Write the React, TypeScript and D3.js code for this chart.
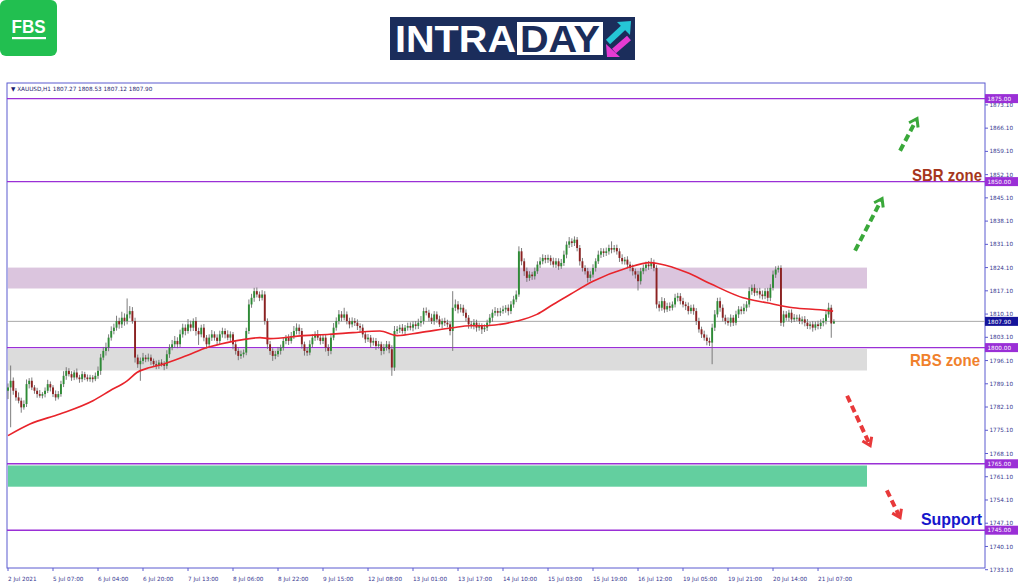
import React from 'react';
import * as d3 from 'd3';

// ---- DATA ----
const firstOpen = 1787;
const closes = [
  1788, 1790, 1787, 1785, 1784, 1782, 1783, 1789, 1790, 1788,
  1787, 1786, 1785.5, 1786, 1787, 1789, 1788, 1786, 1785, 1786,
  1789, 1791.5, 1793, 1792, 1791, 1792.5, 1791, 1790.5, 1792, 1791,
  1790.5, 1791, 1790.5, 1791.5, 1793, 1797, 1799, 1800, 1803, 1805,
  1806, 1808, 1807, 1809, 1808, 1810, 1811, 1808, 1797, 1795,
  1796, 1797, 1796.5, 1797, 1796, 1795, 1794.5, 1795.5, 1795, 1794.5,
  1798, 1800, 1801, 1802, 1801, 1804, 1806, 1805, 1807, 1806,
  1808, 1805, 1804, 1806, 1803, 1801, 1803, 1804, 1803, 1802,
  1804, 1805, 1804, 1803, 1804, 1801, 1799, 1797.5, 1798, 1798.5,
  1805, 1813, 1815, 1817, 1816, 1815, 1816, 1808, 1801, 1799,
  1797.5, 1798, 1799, 1800, 1802, 1803, 1802, 1803.5, 1805, 1806,
  1805, 1801, 1799, 1798.5, 1801, 1803, 1804, 1803, 1802, 1803,
  1800, 1799, 1803, 1806, 1808, 1810, 1809, 1810, 1808, 1807,
  1808, 1807.5, 1806.5, 1806, 1804, 1802.5, 1803, 1801.5, 1802, 1800.5,
  1801, 1799, 1800, 1801, 1799.5, 1794, 1805, 1805.5, 1806, 1805,
  1806, 1806.5, 1806, 1807, 1806.5, 1807.5, 1808, 1811, 1810.5, 1809,
  1808, 1810, 1808.5, 1807, 1808, 1807.5, 1807, 1805, 1812, 1813,
  1811.5, 1812, 1810.5, 1809, 1807, 1806.5, 1807.5, 1806, 1806.5, 1805.5,
  1806, 1807.5, 1809, 1810.5, 1811, 1810.5, 1811, 1811.5, 1812, 1811,
  1813, 1814.5, 1816, 1829, 1826, 1823, 1821, 1822, 1821.5, 1823,
  1825, 1826, 1827, 1826.5, 1827, 1826, 1825, 1826, 1824.5, 1825.5,
  1828, 1831, 1832, 1831.5, 1832.5, 1830, 1826, 1824, 1823, 1821,
  1822, 1824, 1826, 1828, 1829, 1828.5, 1829, 1830, 1829.5, 1830,
  1829, 1827, 1826, 1826.5, 1825, 1824, 1823, 1822, 1820, 1823,
  1824, 1825, 1824.5, 1825.5, 1824, 1813, 1812, 1814, 1811.5, 1812.5,
  1812, 1813, 1815, 1815.5, 1814, 1813, 1812.5, 1811, 1812, 1811,
  1808, 1805.5, 1804, 1803, 1802, 1801.5, 1806, 1810, 1814, 1812,
  1809, 1808, 1807.5, 1809, 1807.5, 1810, 1811.5, 1811, 1812, 1813,
  1817, 1818, 1816.5, 1817, 1816, 1815.5, 1817, 1815, 1818, 1822,
  1823.5, 1824, 1807.5, 1810, 1809, 1810.5, 1808.5, 1809, 1809, 1808,
  1808.5, 1807.5, 1806.5, 1807, 1806, 1807, 1806.5, 1807.5, 1808, 1810,
  1812, 1807.27, 1807.9,
];
const upperWicks = [
  1.2, 4.6, 1.0, 0.8, 1.5, 0.9, 1.1, 1.4, 0.8, 1.0,
  0.7, 0.9, 1.2, 0.6, 1.0, 1.3, 0.8, 0.7, 1.1, 0.9,
  1.0, 1.4, 1.1, 0.8, 0.9, 0.7, 1.2, 0.8, 0.9, 0.7,
  0.9, 0.8, 0.7, 1.0, 1.3, 1.1, 1.2, 1.5, 1.0, 1.4,
  1.2, 1.6, 1.0, 1.8, 1.3, 4.8, 1.5, 1.2, 1.0, 0.9,
  1.0, 1.4, 0.8, 1.2, 0.9, 0.7, 1.1, 0.8, 1.0, 0.9,
  1.2, 1.0, 1.3, 1.5, 1.1, 1.4, 1.2, 1.0, 1.6, 1.1,
  0.8, 1.2, 1.0, 0.9, 1.1, 0.8, 1.0, 1.3, 0.9, 1.0,
  1.1, 1.0, 0.8, 1.2, 0.9, 0.7, 1.0, 0.8, 1.1, 0.9,
  1.0, 1.5, 1.2, 1.0, 1.1, 0.9, 1.3, 1.0, 0.8, 1.0,
  0.8, 1.0, 1.2, 0.9, 1.1, 0.8, 1.0, 1.2, 1.5, 1.3,
  1.0, 0.9, 0.8, 1.1, 1.2, 1.0, 0.9, 1.3, 0.8, 1.0,
  0.9, 1.0, 1.2, 1.4, 1.1, 1.3, 1.0, 2.0, 0.9, 1.0,
  1.1, 0.9, 1.0, 0.8, 1.0, 0.9, 1.1, 0.8, 1.0, 0.9,
  1.0, 0.8, 1.1, 1.0, 0.9, 1.2, 1.5, 1.0, 0.9, 1.1,
  0.8, 1.0, 1.1, 0.9, 1.0, 1.2, 1.5, 1.0, 1.1, 0.9,
  1.2, 1.0, 0.9, 1.1, 0.8, 1.0, 0.9, 0.8, 5.0, 1.5,
  1.0, 1.1, 0.9, 1.0, 0.8, 1.0, 1.1, 0.9, 1.0, 0.8,
  1.0, 0.9, 1.1, 1.0, 1.2, 0.9, 1.0, 1.1, 0.8, 1.0,
  1.0, 1.1, 1.2, 1.5, 1.0, 0.9, 1.1, 1.0, 0.8, 1.1,
  1.0, 1.2, 1.1, 0.9, 1.0, 0.8, 1.1, 1.0, 0.9, 1.2,
  1.2, 1.0, 1.3, 0.9, 1.0, 0.8, 0.9, 1.0, 0.8, 1.0,
  1.0, 1.1, 0.9, 1.2, 1.0, 0.9, 1.1, 1.0, 2.0, 0.9,
  1.0, 0.9, 1.1, 0.8, 1.0, 0.9, 1.0, 0.8, 1.1, 1.0,
  1.0, 0.9, 1.1, 1.5, 1.0, 0.8, 1.0, 1.2, 0.9, 1.0,
  1.1, 0.9, 1.2, 1.0, 0.9, 1.0, 0.8, 1.1, 0.9, 1.0,
  0.9, 1.0, 0.8, 1.1, 0.9, 1.0, 1.2, 1.3, 1.0, 1.1,
  1.0, 0.9, 1.1, 1.0, 0.8, 1.1, 1.0, 0.9, 1.2, 1.0,
  1.2, 1.0, 1.1, 0.9, 1.0, 1.2, 0.9, 1.0, 1.1, 1.2,
  1.0, 0.7, 0.8, 1.1, 1.0, 0.9, 1.0, 1.1, 0.9, 1.0,
  0.9, 1.0, 1.1, 0.8, 1.0, 0.9, 1.1, 1.0, 0.9, 1.2,
  1.5, 0.9, 0.63,
];
const lowerWicks = [
  2.5, 12, 1.2, 1.0, 0.8, 1.6, 0.7, 0.9, 1.3, 0.8,
  0.9, 1.1, 0.6, 0.8, 1.0, 0.7, 1.2, 0.9, 1.0, 0.6,
  0.8, 0.9, 1.2, 0.7, 1.0, 0.8, 0.6, 1.1, 0.9, 0.8,
  0.7, 0.8, 1.0, 0.6, 0.9, 1.2, 0.8, 1.4, 1.1, 0.9,
  1.0, 0.9, 1.3, 1.1, 1.4, 1.0, 1.2, 0.8, 1.5, 1.1,
  5.0, 1.0, 0.9, 0.7, 1.2, 0.8, 1.0, 0.9, 0.7, 1.3,
  0.9, 1.1, 0.8, 1.0, 1.2, 0.9, 1.0, 1.3, 0.8, 1.1,
  1.0, 1.4, 3.2, 0.9, 1.1, 1.3, 0.8, 1.0, 0.9, 1.2,
  0.9, 1.0, 1.2, 0.8, 1.0, 1.5, 1.1, 1.3, 0.9, 1.0,
  0.8, 0.9, 1.0, 1.2, 0.9, 1.0, 0.8, 1.1, 1.4, 1.2,
  1.5, 1.0, 0.8, 1.1, 0.9, 1.0, 1.2, 0.8, 0.9, 1.0,
  1.1, 1.3, 1.4, 1.0, 0.8, 0.9, 1.0, 0.8, 1.1, 0.9,
  1.2, 1.5, 1.0, 0.8, 0.9, 1.0, 1.1, 0.8, 1.0, 1.2,
  0.9, 1.0, 1.2, 1.4, 1.0, 1.1, 0.8, 1.6, 0.9, 1.2,
  0.8, 1.3, 1.0, 0.9, 1.2, 2.5, 1.0, 0.9, 1.1, 0.8,
  1.0, 0.9, 0.8, 1.1, 1.0, 0.9, 1.2, 1.0, 0.8, 1.1,
  0.9, 1.1, 1.0, 0.8, 1.2, 1.0, 0.9, 1.3, 6.0, 1.0,
  1.2, 0.9, 1.0, 1.1, 1.3, 0.8, 1.0, 1.2, 0.9, 1.4,
  0.8, 1.0, 0.9, 1.2, 0.9, 1.1, 1.0, 0.8, 1.0, 1.3,
  0.9, 1.0, 0.8, 0.7, 1.2, 1.4, 1.2, 0.9, 1.1, 1.0,
  0.8, 1.0, 0.9, 1.1, 1.0, 1.2, 0.9, 1.0, 1.1, 0.8,
  0.9, 1.1, 1.0, 1.2, 0.9, 1.0, 1.3, 1.1, 1.0, 1.4,
  1.0, 0.9, 1.1, 0.8, 1.0, 1.2, 0.9, 1.0, 1.1, 0.8,
  1.0, 1.2, 0.9, 1.0, 1.1, 1.0, 1.3, 1.2, 2.8, 1.0,
  0.9, 1.0, 1.1, 0.8, 1.0, 1.2, 1.1, 0.9, 1.0, 0.8,
  1.0, 0.8, 0.9, 1.1, 1.0, 0.9, 1.2, 1.0, 0.8, 1.1,
  1.2, 1.0, 1.1, 0.9, 1.3, 1.0, 6.5, 1.0, 0.9, 1.2,
  1.1, 1.0, 0.9, 1.2, 1.0, 0.8, 1.1, 1.0, 0.9, 1.1,
  0.9, 1.1, 1.0, 0.8, 1.2, 1.0, 0.9, 1.1, 1.0, 0.8,
  1.0, 0.9, 1.0, 1.2, 0.9, 1.1, 1.0, 0.8, 1.0, 0.9,
  1.0, 1.1, 0.9, 1.0, 1.2, 0.8, 1.0, 0.9, 1.1, 1.0,
  1.0, 4.3, 0.15,
];
// moving average (bar index, value)
const maIndex = [0, 8.3, 19.6, 32.1, 38.5, 45, 48.7, 53.6, 58.6, 67.6, 75.2, 82.7, 88.8, 95.2, 99, 111.4, 121.6, 130.3, 140.5, 147, 155.6, 168, 174.5, 181, 185.9, 192.3, 199.8, 205.9, 212.3, 221, 233.8, 242.5, 246.3, 256.5, 265.2, 277.7, 286.7, 296.6, 306.8, 311.7];
const maValues = [1773.5, 1777, 1780, 1784, 1787, 1790, 1792.5, 1794, 1795, 1797.6, 1800, 1801.5, 1802.4, 1803, 1802.7, 1803.6, 1804, 1804.5, 1805, 1803.6, 1804.5, 1806, 1806.6, 1806.6, 1807, 1808, 1810, 1813, 1816, 1820, 1824, 1825.6, 1825.2, 1822.6, 1819.3, 1815, 1813.5, 1812, 1811.4, 1811];

const yTickValues = [1733.1, 1740.1, 1747.1, 1754.1, 1761.1, 1768.1, 1775.1, 1782.1, 1789.1, 1796.1, 1803.1, 1810.1, 1817.1, 1824.1, 1831.1, 1838.1, 1845.1, 1852.1, 1859.1, 1866.1, 1873.1];
const xTickLabels = ['2 Jul 2021', '5 Jul 07:00', '6 Jul 04:00', '6 Jul 20:00', '7 Jul 13:00', '8 Jul 06:00', '8 Jul 22:00', '9 Jul 15:00', '12 Jul 08:00', '13 Jul 01:00', '13 Jul 17:00', '14 Jul 10:00', '15 Jul 03:00', '15 Jul 19:00', '16 Jul 12:00', '19 Jul 05:00', '19 Jul 21:00', '20 Jul 14:00', '21 Jul 07:00'];
const barsPerXTick = 17;
const levelValues = [1875, 1850, 1800, 1765, 1745];
const lastPrice = 1807.9;
const headerText = 'XAUUSD,H1  1807.27 1808.53 1807.12 1807.90';
const lilacZone = [1817.8, 1824.1];
const greyZone = [1793.1, 1799.6];
const greenZone = [1758.1, 1764.5];

export default function App() {
  const left = 7, right = 985, top = 83, bottom = 568;
  const x = d3.scaleLinear().domain([0, 312]).range([8, 833.9]);
  const y = d3.scaleLinear().domain([1745, 1875]).range([530.2, 98.6]);
  const zoneRight = 867;
  const font = "'Liberation Sans', Arial, sans-serif";
  const axisFont = "'DejaVu Sans', Verdana, sans-serif";
  const axisColor = '#5b5bd0';
  const tickText = '#35358f';
  const purple = '#9a2fd6';

  const candles = closes.map((c, i) => {
    const o = i === 0 ? firstOpen : closes[i - 1];
    return { i, o, c, h: Math.max(o, c) + upperWicks[i], l: Math.min(o, c) - lowerWicks[i] };
  });

  const maLine = d3.line<number>()
    .x((_, k) => x(maIndex[k]))
    .y((v) => y(v))
    .curve(d3.curveMonotoneX)(maValues) as string;

  const zoneRect = (z: number[], fill: string) => (
    <rect x={left + 1} y={y(z[1])} width={zoneRight - left - 1} height={y(z[0]) - y(z[1])} fill={fill} />
  );

  // annotation arrows in (bar index, price) space
  const arrows = [
    { from: [320, 1829.2], to: [330.2, 1844.9], color: '#3aa83a' },
    { from: [337, 1859.3], to: [343.4, 1869], color: '#3aa83a' },
    { from: [317, 1785.5], to: [325.7, 1770.5], color: '#e8393a' },
    { from: [332, 1757], to: [337, 1748.8], color: '#e8393a' },
  ];

  const arrowEls = arrows.map((a, k) => {
    const x1 = x(a.from[0]), y1 = y(a.from[1]), x2 = x(a.to[0]), y2 = y(a.to[1]);
    const ang = Math.atan2(y2 - y1, x2 - x1);
    const hl = 9;
    const p1 = [x2 - hl * Math.cos(ang - 0.6), y2 - hl * Math.sin(ang - 0.6)];
    const p2 = [x2 - hl * Math.cos(ang + 0.6), y2 - hl * Math.sin(ang + 0.6)];
    const sx = x2 - 3 * Math.cos(ang), sy = y2 - 3 * Math.sin(ang);
    return (
      <g key={k}>
        <line x1={x1} y1={y1} x2={sx} y2={sy} stroke={a.color} strokeWidth={4} strokeDasharray="7 4" />
        <polyline points={`${p1[0]},${p1[1]} ${x2},${y2} ${p2[0]},${p2[1]}`} fill="none" stroke={a.color} strokeWidth={3} strokeLinejoin="miter" />
      </g>
    );
  });

  const priceBox = (v: number, fill: string, key: string) => (
    <g key={key}>
      <rect x={right} y={y(v) - 4.5} width={33} height={9} fill={fill} />
      <text x={right + 2.5} y={y(v) + 2.2} fontSize={5.7} fill="#ffffff" fontFamily={axisFont}>{v.toFixed(2)}</text>
    </g>
  );

  return (
    <svg width={1024} height={587} style={{ position: 'absolute', left: 0, top: 0, background: '#fff' }}>
      <rect x={0} y={0} width={1024} height={587} fill="#ffffff" />
      {/* FBS logo */}
      <rect x={0} y={0} width={57} height={56} rx={6} fill="#22bf50" />
      <text x={28.5} y={33} textAnchor="middle" fontSize={19} fontWeight="bold" fill="#fff" fontFamily={font} textLength={34} lengthAdjust="spacingAndGlyphs">FBS</text>
      <rect x={12} y={37} width={34} height={2.2} fill="#fff" />
      {/* INTRADAY logo */}
      <rect x={390} y={17} width={245} height={43} fill="#1b2d5b" />
      <text x={395} y={52} fontSize={36} fontWeight="bold" fill="#fff" fontFamily={font} textLength={121} lengthAdjust="spacingAndGlyphs">INTRA</text>
      <rect x={517} y={22} width={86} height={33} fill="#fff" />
      <text x={520} y={52} fontSize={36} fontWeight="bold" fill="#1b2d5b" fontFamily={font} textLength={80} lengthAdjust="spacingAndGlyphs">DAY</text>
      <line x1={608} y1={42} x2={624} y2={27} stroke="#25c6d6" strokeWidth={6} />
      <polygon points="617,22 631,21 630,35" fill="#25c6d6" />
      <line x1={629} y1={38} x2={614} y2={51} stroke="#e63bd3" strokeWidth={6} />
      <polygon points="606,44 607,57 620,57" fill="#e63bd3" />

      {/* zones */}
      {zoneRect(lilacZone, '#dbc5de')}
      {zoneRect(greyZone, '#dcdcdc')}
      {zoneRect(greenZone, '#63cf9f')}

      {/* frame */}
      <rect x={left} y={top} width={right - left} height={bottom - top} fill="none" stroke={axisColor} strokeWidth={1} />
      <text x={11} y={91} fontSize={5.7} fill="#1c1c6e" fontFamily={axisFont}>{'\u25BC ' + headerText}</text>

      {/* horizontal levels */}
      <line x1={left} x2={right} y1={y(lastPrice)} y2={y(lastPrice)} stroke="#a8a8a8" strokeWidth={1} />
      {levelValues.map((v) => (
        <line key={v} x1={left} x2={right} y1={y(v)} y2={y(v)} stroke={purple} strokeWidth={1.4} />
      ))}

      {/* candles */}
      {candles.map((d) => {
        const cx = x(d.i);
        const up = d.c >= d.o;
        const col = up ? '#2e8b36' : '#8c2222';
        const yt = y(Math.max(d.o, d.c));
        const yb = y(Math.min(d.o, d.c));
        return (
          <g key={d.i}>
            <line x1={cx} x2={cx} y1={y(d.h)} y2={y(d.l)} stroke="#6e6e6e" strokeWidth={0.9} />
            <rect x={cx - 0.95} y={yt} width={1.9} height={Math.max(1, yb - yt)} fill={col} />
          </g>
        );
      })}

      {/* moving average */}
      <path d={maLine} fill="none" stroke="#e8242b" strokeWidth={1.6} />

      {/* y axis ticks */}
      {yTickValues.map((v) => (
        <g key={v}>
          <line x1={right} x2={right + 3} y1={y(v)} y2={y(v)} stroke={axisColor} />
          <text x={right + 4.5} y={y(v) + 2.1} fontSize={5.7} fill={tickText} fontFamily={axisFont}>{v.toFixed(2)}</text>
        </g>
      ))}
      {levelValues.map((v) => priceBox(v, purple, 'l' + v))}
      {priceBox(lastPrice, '#14149a', 'last')}

      {/* x axis ticks */}
      {xTickLabels.map((t, k) => {
        const tx = x(k * barsPerXTick);
        return (
          <g key={t}>
            <line x1={tx} x2={tx} y1={bottom} y2={bottom + 3} stroke={axisColor} />
            <text x={tx} y={580.5} fontSize={5.7} fill={tickText} fontFamily={axisFont}>{t}</text>
          </g>
        );
      })}

      {/* annotations */}
      {arrowEls}
      <text x={982} y={181} textAnchor="end" fontSize={17} fontWeight="bold" fill="#a6361c" fontFamily={font} textLength={70} lengthAdjust="spacingAndGlyphs">SBR zone</text>
      <text x={980} y={366} textAnchor="end" fontSize={17} fontWeight="bold" fill="#f0812c" fontFamily={font} textLength={70} lengthAdjust="spacingAndGlyphs">RBS zone</text>
      <text x={982} y={525} textAnchor="end" fontSize={17} fontWeight="bold" fill="#1616cc" fontFamily={font} textLength={61} lengthAdjust="spacingAndGlyphs">Support</text>
    </svg>
  );
}
